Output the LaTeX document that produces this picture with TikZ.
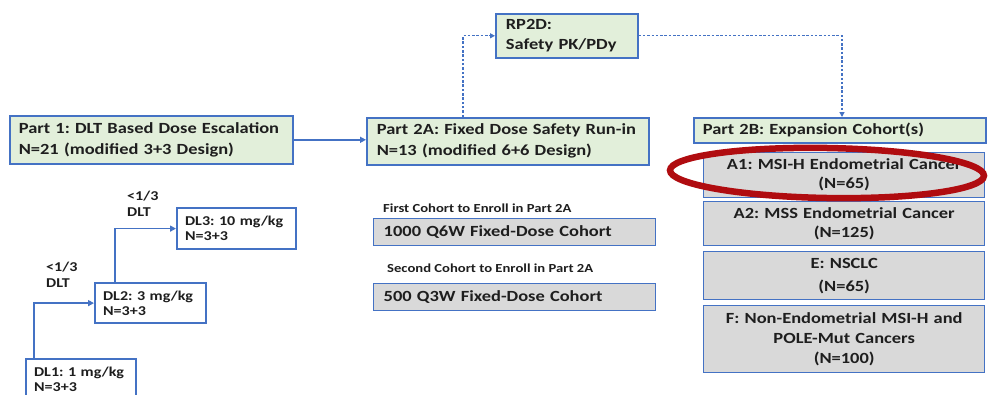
\documentclass[tikz,border=0pt]{standalone}
\usepackage{fontspec}
\setmainfont{Carlito}[FakeStretch=1.19]
\usetikzlibrary{arrows.meta}
\definecolor{boxblue}{HTML}{4472C4}
\definecolor{boxgreen}{HTML}{E2EFDA}
\definecolor{boxgray}{HTML}{D9D9D9}
\definecolor{txt}{HTML}{1E1E1E}
\definecolor{ringred}{HTML}{B00C10}
\frenchspacing
\begin{document}
\begin{tikzpicture}[x=1pt, y=-1pt,
    partbox/.style={draw=boxblue, fill=boxgreen, line width=1.6pt, anchor=north west,
      align=left, inner xsep=9pt, inner ysep=0pt, text=txt,
      font=\bfseries\fontsize{15.5}{21}\selectfont},
    cohortbox/.style={draw=boxblue, fill=boxgray, line width=1.4pt, anchor=north west,
      align=center, inner xsep=6pt, inner ysep=0pt, text=txt,
      font=\bfseries\fontsize{15.5}{19}\selectfont},
    dosebox/.style={draw=boxblue, fill=white, line width=2.2pt, anchor=north west,
      align=left, inner xsep=8pt, inner ysep=0pt, text=txt,
      font=\bfseries\fontsize{13.5}{15}\selectfont},
    note/.style={anchor=north west, align=left, inner sep=0pt, text=txt,
      font=\bfseries\fontsize{12.3}{16}\selectfont},
    flow/.style={boxblue, line width=1.6pt, -{Triangle[length=6pt,width=6pt]}},
    dashflow/.style={boxblue, line width=1.3pt, dash pattern=on 2.5pt off 1.8pt,
      -{Triangle[length=5pt,width=5pt]}}]
    \useasboundingbox (0,0) rectangle (989,394);
    \clip (0,0) rectangle (989,394);

    % Parts
    \node[partbox, text width=265pt, minimum height=48pt] (part1) at (9,115)
        {Part 1: DLT Based Dose Escalation\\N=21 (modified 3+3 Design)};
    \node[partbox, text width=262pt, minimum height=47pt, inner xsep=10pt] (part2a) at (366,117)
        {Part 2A: Fixed Dose Safety Run-in\\N=13 (modified 6+6 Design)};
    \node[partbox, text width=122pt, minimum height=44pt, inner xsep=10pt,
        font=\bfseries\fontsize{15.5}{20}\selectfont] (rp2d) at (495,13)
        {RP2D:\\Safety PK/PDy};
    \node[partbox, text width=274pt, minimum height=25pt] (part2b) at (693,117)
        {Part 2B: Expansion Cohort(s)};

    \draw[flow] (part1.east) -- (part1.east -| part2a.west);
    \draw[dashflow] ([xshift=97pt]part2a.north west) |- (rp2d.west);
    \draw[dashflow] (rp2d.east) -| ([xshift=149pt]part2b.north west);

    % Expansion cohorts
    \node[cohortbox, text width=269pt, minimum height=45pt] (a1) at (703,152)
        {A1: MSI-H Endometrial Cancer\\(N=65)};
    \node[cohortbox, text width=269pt, minimum height=44pt] (a2) at (703,201)
        {A2: MSS Endometrial Cancer\\(N=125)};
    \node[cohortbox, text width=269pt, minimum height=48pt,
        font=\bfseries\fontsize{15.5}{23}\selectfont] (e) at (703,251)
        {E: NSCLC\\(N=65)};
    \node[cohortbox, text width=269pt, minimum height=67pt,
        font=\bfseries\fontsize{15.5}{20}\selectfont] (f) at (703,305)
        {F: Non-Endometrial MSI-H and\\POLE-Mut Cancers\\(N=100)};
    \draw[ringred, line width=6.5pt, rotate around={-1:(827,173)}] (827,173) ellipse (157pt and 25pt);

    % Part 2A cohorts
    \node[note] (first) at (383,204) {First Cohort to Enroll in Part 2A};
    \node[cohortbox, align=left, text width=262pt, minimum height=27pt, inner xsep=10pt] (q6w) at (373,218)
        {1000 Q6W Fixed-Dose Cohort};
    \node[note] (second) at (387,264) {Second Cohort to Enroll in Part 2A};
    \node[cohortbox, align=left, text width=262pt, minimum height=27pt, inner xsep=10pt] (q3w) at (373,283)
        {500 Q3W Fixed-Dose Cohort};

    % Dose levels
    \node[dosebox, text width=94pt, minimum height=40pt] (dl1) at (25,358)
        {DL1: 1 mg/kg\\N=3+3};
    \node[dosebox, text width=95pt, minimum height=40pt] (dl2) at (94,282)
        {DL2: 3 mg/kg\\N=3+3};
    \node[dosebox, text width=103pt, minimum height=41pt] (dl3) at (176,207)
        {DL3: 10 mg/kg\\N=3+3};
    \node[note, font=\bfseries\fontsize{13.5}{16}\selectfont] (dlt1) at (46,262) {<1/3\\DLT};
    \node[note, font=\bfseries\fontsize{13.5}{16}\selectfont] (dlt2) at (127,191) {<1/3\\DLT};
    \draw[flow] ([xshift=9pt]dl1.north west) |- (dl2.west);
    \draw[flow] ([xshift=21pt]dl2.north west) |- (dl3.west);
\end{tikzpicture}
\end{document}
